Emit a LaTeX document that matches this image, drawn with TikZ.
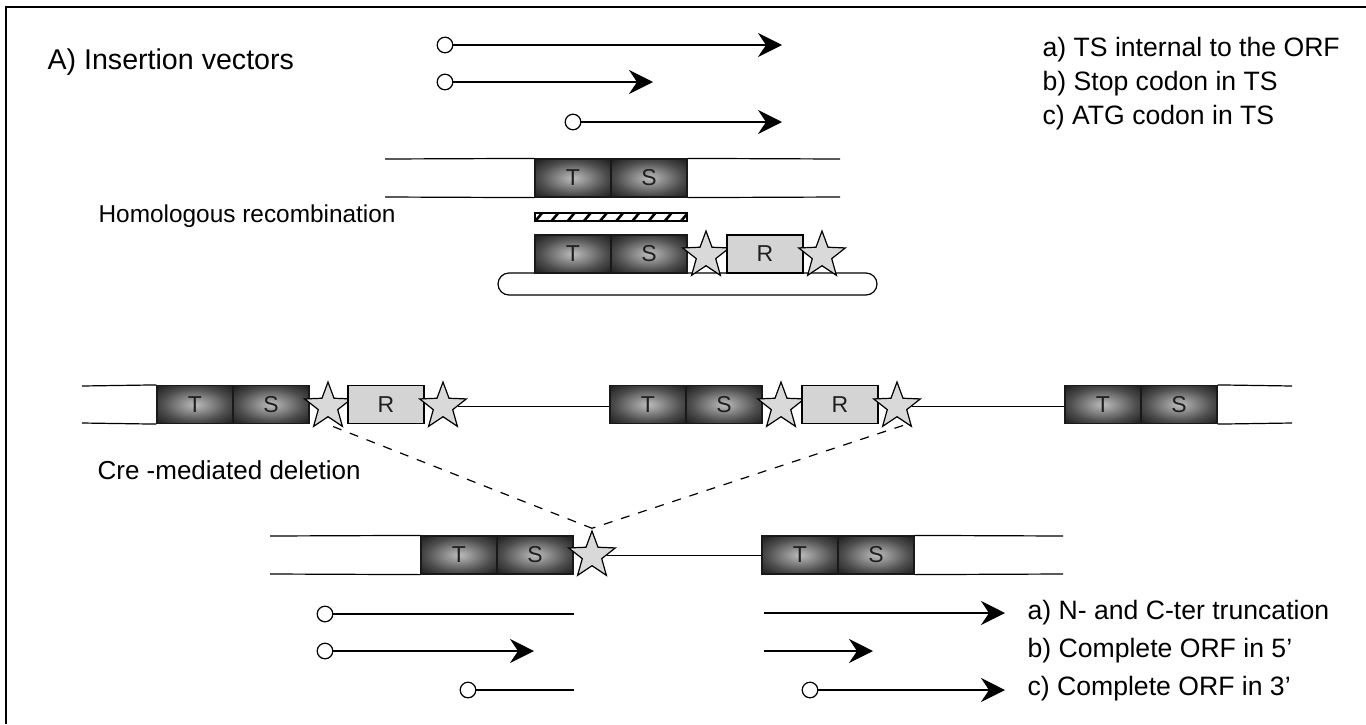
\documentclass[tikz,border=0pt]{standalone}
\usepackage{fontspec}
\setmainfont{Liberation Sans}
\usetikzlibrary{shapes.geometric,arrows.meta,patterns.meta,calc}
\definecolor{tsA}{gray}{0.74}
\definecolor{tsB}{gray}{0.56}
\definecolor{tsC}{gray}{0.30}
\definecolor{tsD}{gray}{0.13}
\definecolor{tsE}{gray}{0.06}
\definecolor{rfill}{gray}{0.83}
\definecolor{sfill}{gray}{0.85}
\pgfdeclareradialshading{tsshade}{\pgfpoint{0bp}{0bp}}{color(0bp)=(tsA); color(9bp)=(tsB); color(22bp)=(tsC); color(34bp)=(tsD); color(50bp)=(tsE)}
\tikzset{
  x=0.5pt, y=-0.5pt,
  every path/.style={line width=0.6pt},
  half/.style={draw=black!90, shade, shading=tsshade, minimum width=38pt, minimum height=19pt, inner sep=0pt, font=\fontsize{11.5}{11.5}\selectfont, text=black!88},
  rbox/.style={draw=black, fill=rfill, minimum width=38pt, minimum height=19pt, inner sep=0pt, font=\fontsize{11.5}{11.5}\selectfont, text=black!88},
  lox/.style={star, star points=5, star point ratio=2.4, minimum size=24.5pt, inner sep=0pt, draw=black, fill=sfill},
  dot/.style={circle, draw=black, fill=white, minimum size=7.8pt, inner sep=0pt},
  arr/.style={-{Stealth[length=12pt, width=12pt, inset=4pt]}},
  big/.style={anchor=west, inner sep=0pt, font=\fontsize{14.3}{16}\selectfont},
  lbl/.style={anchor=west, inner sep=0pt, font=\fontsize{13.3}{15}\selectfont},
  mid/.style={anchor=west, inner sep=0pt, font=\fontsize{12.2}{14}\selectfont},
  dashl/.style={dash pattern=on 4.5pt off 4.5pt},
}
\begin{document}
\begin{tikzpicture}
\useasboundingbox (0,0) rectangle (1366,724);
% frame
\draw[line width=0.7pt] (6,724) -- (6,7) -- (1366,7);

% title
\node[big] (title) at (47,62) {A) Insertion vectors};

% top arrows
\node[dot] (c1) at (445,45) {};
\coordinate (e1) at (782,45);
\draw[arr] (c1) -- (e1);
\node[dot] (c2) at (445,82) {};
\coordinate (e2) at (653,82);
\draw[arr] (c2) -- (e2);
\node[dot] (c3) at (573,122) {};
\coordinate (e3) at (782,122);
\draw[arr] (c3) -- (e3);

\node[lbl] (la) at (1042,50) {a) TS internal to the ORF};
\node[lbl] (lb) at (1042,84) {b) Stop codon in TS};
\node[lbl] (lc) at (1042,118) {c) ATG codon in TS};

% target locus
\node[half] (t1) at (573,178) {T};
\node[half] (s1) at (649,178) {S};
\coordinate (g1a) at (385,159);
\coordinate (g1b) at (385,197);
\coordinate (g1c) at (840,159);
\coordinate (g1d) at (840,197);
\draw (g1a) -- (t1.north west);
\draw (g1b) -- (t1.south west);
\draw (s1.north east) -- (g1c);
\draw (s1.south east) -- (g1d);

\node[mid] (hr) at (98,216) {Homologous recombination};

% hatched bar
\node[draw=black, minimum width=76pt, minimum height=4pt, inner sep=0pt,
      pattern={Lines[angle=50, distance=6.2pt, line width=1.3pt]}] (hb) at (611,217) {};

% vector
\node[draw=black, rounded corners=5.5pt, minimum width=189.5pt, minimum height=11pt, inner sep=0pt] (cap) at (687.5,284) {};
\node[half] (t2) at (573,254) {T};
\node[half] (s2) at (649,254) {S};
\node[lox] (x21) at (706,255.5) {};
\node[rbox] (r2) at (765,254) {R};
\node[lox] (x22) at (822,255.5) {};

% integrated locus
\coordinate (g3a) at (82,386);
\coordinate (g3b) at (82,423);
\node[half] (t3) at (195,404.5) {T};
\node[half] (s3) at (271,404.5) {S};
\draw (g3a) -- (t3.north west);
\draw (g3b) -- (t3.south west);
\node[lox] (x31) at (328,406.5) {};
\node[rbox] (r3) at (386,404.5) {R};
\node[lox] (x32) at (443,406.5) {};

\node[half] (t4) at (648,404.5) {T};
\node[half] (s4) at (724,404.5) {S};
\draw (x32.east) -- (x32.east -| t4.west);
\node[lox] (x41) at (781,406.5) {};
\node[rbox] (r4) at (840,404.5) {R};
\node[lox] (x42) at (897,406.5) {};

\node[half] (t5) at (1103,404.5) {T};
\node[half] (s5) at (1179,404.5) {S};
\draw (x42.east) -- (x42.east -| t5.west);
\coordinate (g5a) at (1292,386);
\coordinate (g5b) at (1292,423);
\draw (s5.north east) -- (g5a);
\draw (s5.south east) -- (g5b);

\node[mid, font=\fontsize{13}{15}\selectfont] (cre) at (97,470) {Cre -mediated deletion};

% deleted locus
\coordinate (g6a) at (270,536);
\coordinate (g6b) at (270,574);
\node[half] (t6) at (459,555) {T};
\node[half] (s6) at (535,555) {S};
\draw (g6a) -- (t6.north west);
\draw (g6b) -- (t6.south west);
\node[lox] (x6) at (592,555.5) {};
\node[half] (t7) at (800,555) {T};
\node[half] (s7) at (876,555) {S};
\draw (x6.east) -- (x6.east -| t7.west);
\coordinate (g7a) at (1063,536);
\coordinate (g7b) at (1063,574);
\draw (s7.north east) -- (g7a);
\draw (s7.south east) -- (g7b);

\draw[dashl] ($(x31.center)+(5,20)$) -- ($(x6.north)+(0,-1)$);
\draw[dashl] ($(x42.center)+(6,19)$) -- ($(x6.north)+(0,-1)$);

% transcripts
\node[dot] (d1) at (325,614) {};
\coordinate (f1) at (574,614);
\draw (d1) -- (f1);
\node[dot] (d2) at (325,651) {};
\coordinate (f2) at (534,651);
\draw[arr] (d2) -- (f2);
\node[dot] (d3) at (468,690) {};
\coordinate (f3) at (574,690);
\draw (d3) -- (f3);

\coordinate (h1) at (764,613);
\coordinate (k1) at (1005,613);
\draw[arr] (h1) -- (k1);
\coordinate (h2) at (764,651);
\coordinate (k2) at (873,651);
\draw[arr] (h2) -- (k2);
\node[dot] (d4) at (810,690) {};
\coordinate (k3) at (1005,690);
\draw[arr] (d4) -- (k3);

\node[lbl] (ma) at (1027,613) {a) N- and C-ter truncation};
\node[lbl] (mb) at (1027,651) {b) Complete ORF in 5’};
\node[lbl] (mc) at (1027,689) {c) Complete ORF in 3’};
\end{tikzpicture}
\end{document}
